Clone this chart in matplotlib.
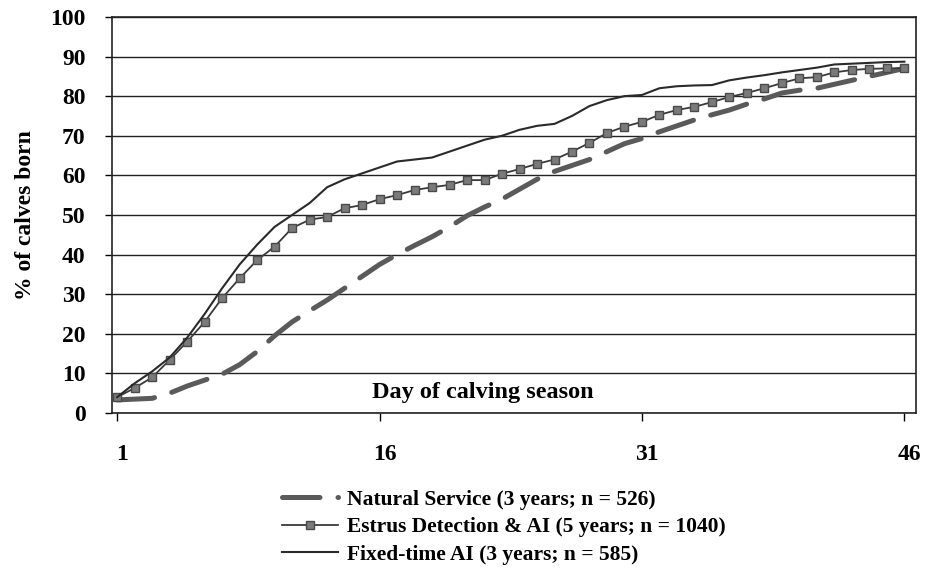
import matplotlib
matplotlib.use("Agg")
import matplotlib.pyplot as plt
from matplotlib.transforms import ScaledTranslation

# days of calving season
days = list(range(1, 47))

# cumulative % of calves born
natural = [3.3, 3.5, 3.7, 5.0, 6.8, 8.3, 9.8, 12.2, 15.5, 19.5,
           23.0, 25.8, 28.5, 31.5, 34.5, 37.5, 40.0, 42.3, 44.5, 47.0,
           49.8, 52.0, 54.0, 56.5, 59.0, 61.0, 62.5, 64.0, 66.0, 68.0,
           69.3, 71.0, 72.5, 74.0, 75.3, 76.5, 78.0, 79.3, 80.8, 81.5,
           82.0, 83.0, 84.0, 85.0, 86.0, 87.0]
estrus = [4.0, 6.3, 9.0, 13.4, 18.0, 23.0, 29.0, 34.0, 38.6, 42.0,
          46.7, 48.8, 49.5, 51.7, 52.5, 54.0, 55.0, 56.3, 57.0, 57.6,
          58.8, 58.8, 60.4, 61.6, 62.9, 64.0, 66.0, 68.2, 70.7, 72.3,
          73.5, 75.3, 76.5, 77.3, 78.5, 79.8, 80.8, 82.0, 83.3, 84.5,
          84.8, 86.0, 86.6, 86.9, 87.0, 87.1]
fixed_time = [4.0, 7.5, 10.5, 14.0, 19.0, 25.0, 31.5, 37.5, 42.5, 47.0,
              50.0, 53.0, 57.0, 59.0, 60.5, 62.0, 63.5, 64.0, 64.5, 66.0,
              67.5, 69.0, 70.0, 71.5, 72.5, 73.0, 75.0, 77.5, 79.0, 80.0,
              80.3, 82.0, 82.5, 82.7, 82.8, 84.0, 84.7, 85.3, 86.0, 86.6,
              87.2, 88.0, 88.2, 88.4, 88.6, 88.7]

labels = ["Natural Service (3 years; n = 526)",
          "Estrus Detection & AI (5 years; n = 1040)",
          "Fixed-time AI (3 years; n = 585)"]
xticks = [1, 16, 31, 46]
yticks = list(range(0, 101, 10))

plt.rcParams['font.family'] = ['Liberation Serif', 'DejaVu Serif']
plt.rcParams['font.weight'] = 'bold'

fig = plt.figure(figsize=(9.25, 5.74), dpi=100)
ax = fig.add_axes([0.121, 0.2805, 0.869, 0.69])

for y in yticks:
    ax.axhline(y, color='#222222', lw=1.0, zorder=1)

ln_nat, = ax.plot(days, natural, color='#5a5a5a', lw=3.6,
                  dashes=(7.5, 3.6), solid_capstyle='round',
                  dash_capstyle='round', zorder=3)
ln_est, = ax.plot(days, estrus, color='#3a3a3a', lw=1.3, marker='s',
                  markersize=5.5, markerfacecolor='#7a7a7a',
                  markeredgecolor='#4a4a4a', markeredgewidth=1.0, zorder=4)
ln_fix, = ax.plot(days, fixed_time, color='#2a2a2a', lw=1.5, zorder=5)

ax.set_xlim(0.7, 46.65)
ax.set_ylim(0, 100)
ax.set_xticks(xticks)
ax.set_yticks(yticks)
ax.tick_params(axis='y', length=5, width=1, pad=14, labelsize=17)
ax.tick_params(axis='x', length=6, width=1, pad=16, labelsize=17)
for lab in ax.get_xticklabels():
    lab.set_transform(lab.get_transform() + ScaledTranslation(0.05, 0, fig.dpi_scale_trans))

for side in ['left', 'right', 'bottom', 'top']:
    ax.spines[side].set_color('#222222')
    ax.spines[side].set_linewidth(1.2)

ax.set_ylabel('% of calves born', fontsize=17, fontweight='bold', labelpad=10)
ax.text(21.9, 5.3, 'Day of calving season', fontsize=17.5, ha='center', va='center')

fig.legend([ln_nat, ln_est, ln_fix], labels, loc='upper left',
           bbox_to_anchor=(0.305, 0.147), frameon=False, fontsize=15.5,
           handlelength=2.6, handletextpad=0.4, labelspacing=0.35,
           borderaxespad=0, borderpad=0)

fig.savefig('out.png', dpi=100)
